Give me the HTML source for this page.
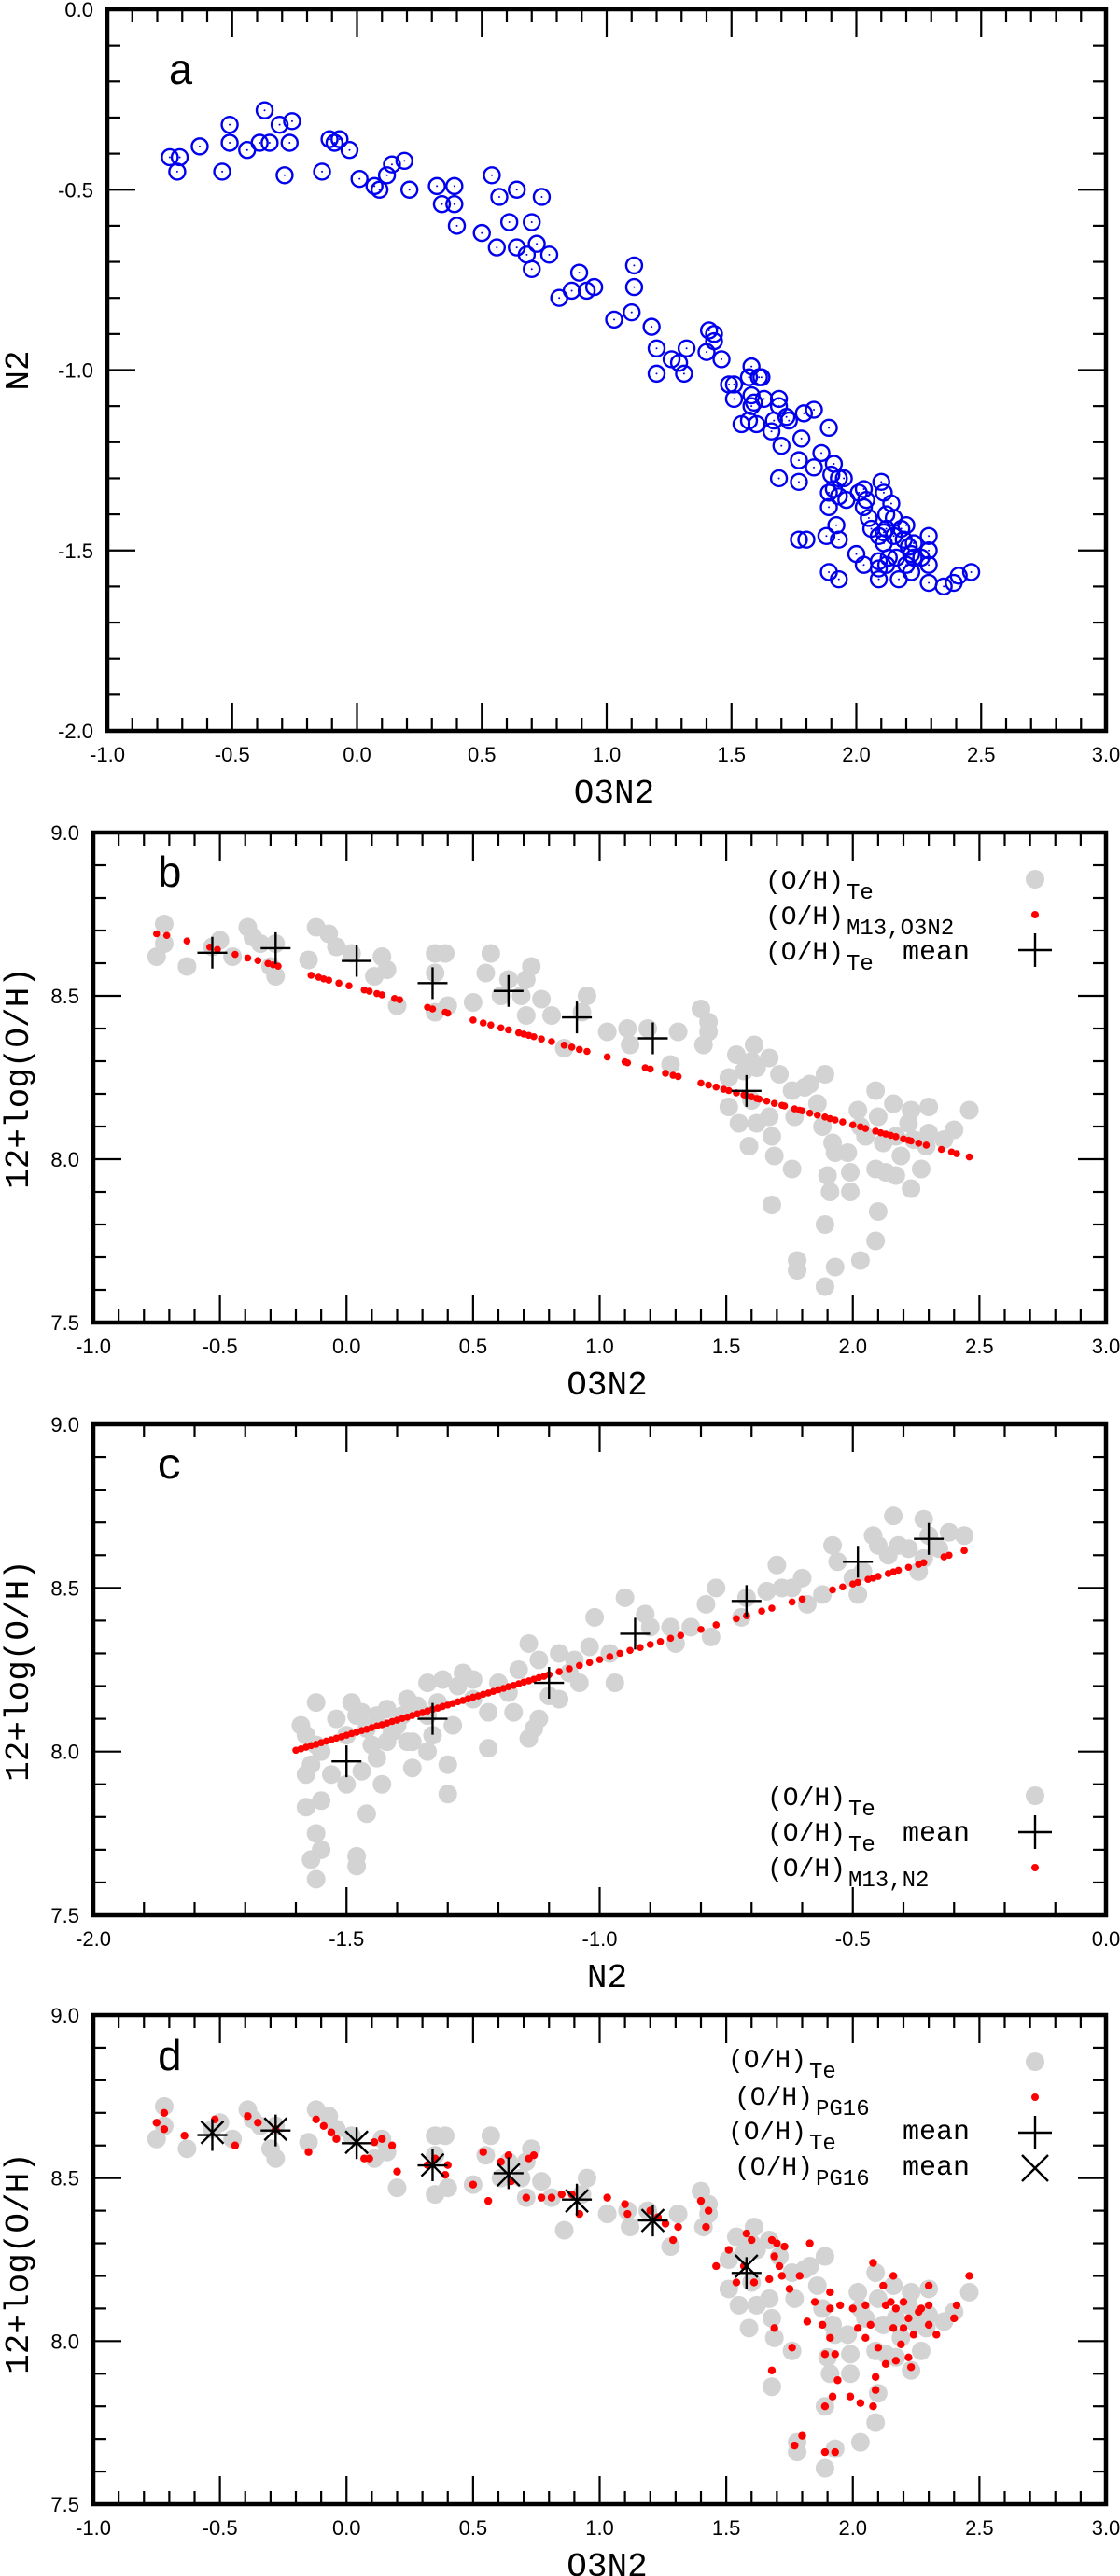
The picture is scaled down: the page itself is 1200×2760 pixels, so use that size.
<!DOCTYPE html>
<html><head><meta charset="utf-8"><style>
html,body{margin:0;padding:0;background:#fff;}
svg{display:block;}
.tl{font-family:"Liberation Sans",sans-serif;font-size:22px;fill:#000;}
.mono{font-family:"Liberation Mono",monospace;fill:#000;}
</style></head><body>
<svg id="fig" width="1200" height="2760" viewBox="0 0 1200 2760" xmlns="http://www.w3.org/2000/svg"></svg>
<script>
// ---------- Panel a data (O3N2 vs N2) ----------
const aO3N2 = [-0.75,-0.71,-0.72,-0.63,-0.54,-0.51,-0.51,-0.44,-0.39,-0.37,-0.35,-0.31,-0.29,-0.27,-0.26,-0.14,-0.11,-0.09,-0.07,-0.03,0.01,0.07,0.09,0.12,0.14,0.19,0.21,0.32,0.39,0.34,0.39,0.40,0.54,0.57,0.64,0.74,0.50,0.56,0.61,0.70,0.72,0.64,0.68,0.70,0.77,0.89,0.81,0.86,0.92,0.95,1.11,1.11,1.10,1.03,1.18,1.20,1.20,1.26,1.29,1.32,1.31,1.41,1.43,1.43,1.40,1.46,1.58,1.61,1.57,1.62,1.49,1.51,1.51,1.58,1.59,1.63,1.69,1.69,1.58,1.54,1.57,1.60,1.67,1.72,1.73,1.66,1.70,1.79,1.83,1.89,1.78,1.77,1.86,1.83,1.69,1.77,1.91,1.90,1.93,1.95,1.91,1.89,1.93,1.96,2.01,2.03,2.04,2.10,2.11,2.14,1.89,2.03,2.05,2.06,2.12,2.15,2.12,2.11,2.18,2.20,2.15,2.09,2.11,2.19,2.21,2.23,2.29,2.29,2.22,2.13,2.09,2.09,2.12,2.16,2.20,2.23,2.26,2.29,1.92,1.93,1.88,1.77,1.80,1.89,1.93,2.00,2.03,2.09,2.17,2.22,2.29,2.35,2.39,2.41,2.46];
const aN2 = [-0.41,-0.41,-0.45,-0.38,-0.45,-0.32,-0.37,-0.39,-0.37,-0.28,-0.37,-0.32,-0.46,-0.37,-0.31,-0.45,-0.36,-0.37,-0.36,-0.39,-0.47,-0.49,-0.50,-0.46,-0.43,-0.42,-0.50,-0.49,-0.49,-0.54,-0.54,-0.60,-0.46,-0.52,-0.50,-0.52,-0.62,-0.66,-0.59,-0.59,-0.65,-0.66,-0.68,-0.72,-0.68,-0.73,-0.80,-0.78,-0.78,-0.77,-0.71,-0.77,-0.84,-0.86,-0.88,-0.94,-1.01,-0.97,-0.98,-0.94,-1.01,-0.89,-0.90,-0.92,-0.95,-0.97,-0.99,-1.02,-1.02,-1.02,-1.04,-1.04,-1.08,-1.07,-1.09,-1.08,-1.08,-1.10,-1.10,-1.15,-1.14,-1.15,-1.14,-1.13,-1.14,-1.17,-1.21,-1.12,-1.11,-1.16,-1.19,-1.25,-1.23,-1.27,-1.30,-1.31,-1.26,-1.29,-1.30,-1.30,-1.33,-1.34,-1.35,-1.36,-1.34,-1.33,-1.36,-1.31,-1.34,-1.37,-1.38,-1.38,-1.41,-1.44,-1.40,-1.41,-1.44,-1.45,-1.44,-1.43,-1.46,-1.46,-1.48,-1.47,-1.49,-1.48,-1.46,-1.50,-1.51,-1.52,-1.53,-1.55,-1.54,-1.52,-1.54,-1.52,-1.52,-1.54,-1.43,-1.47,-1.46,-1.47,-1.47,-1.56,-1.58,-1.51,-1.54,-1.58,-1.58,-1.56,-1.59,-1.60,-1.59,-1.57,-1.56];

// ---------- Panel b / d gray (O3N2 vs Te) ----------
const teO3N2 = [-0.75,-0.72,-0.72,-0.63,-0.53,-0.50,-0.45,-0.39,-0.37,-0.34,-0.28,-0.28,-0.30,-0.15,-0.12,-0.07,-0.04,0.02,0.14,0.11,0.16,0.20,0.35,0.39,0.35,0.40,0.35,0.50,0.57,0.55,0.61,0.64,0.69,0.73,0.71,0.71,0.77,0.81,0.86,0.95,0.93,1.03,1.11,1.12,1.19,1.28,1.31,1.40,1.43,1.43,1.41,1.51,1.54,1.61,1.57,1.60,1.62,1.67,1.71,1.51,1.55,1.59,1.60,1.62,1.67,1.68,1.69,1.77,1.76,1.76,1.81,1.83,1.89,1.86,1.88,1.92,1.93,1.90,1.91,1.99,1.98,1.99,2.02,2.03,2.05,2.09,2.10,2.12,2.09,2.13,2.10,2.09,2.03,1.93,1.89,1.89,1.68,1.78,1.78,2.16,2.17,2.19,2.23,2.24,2.23,2.30,2.27,2.30,2.36,2.40,2.46,2.17,2.22,2.29];
const teOH = [8.62,8.72,8.66,8.59,8.65,8.67,8.62,8.71,8.68,8.66,8.66,8.56,8.59,8.61,8.71,8.69,8.65,8.63,8.62,8.56,8.58,8.47,8.63,8.63,8.57,8.47,8.45,8.48,8.63,8.57,8.50,8.55,8.50,8.59,8.55,8.44,8.49,8.44,8.34,8.50,8.45,8.39,8.40,8.35,8.40,8.29,8.39,8.46,8.42,8.39,8.35,8.25,8.32,8.35,8.27,8.30,8.28,8.31,8.26,8.16,8.11,8.04,8.18,8.11,8.13,8.07,8.01,8.13,7.97,8.21,8.22,8.23,8.26,8.17,8.10,8.05,8.02,7.95,7.90,7.90,8.02,7.96,8.15,8.10,8.07,8.21,8.13,8.05,7.97,7.96,7.84,7.75,7.69,7.67,7.80,7.61,7.86,7.69,7.66,8.17,8.07,8.01,8.15,8.06,7.91,8.16,7.97,8.08,8.06,8.09,8.15,7.95,8.11,8.04];

// ---------- Panel b red: M13 O3N2 calibration ----------
const m13O3N2x = [-0.75,-0.71,-0.63,-0.54,-0.51,-0.44,-0.39,-0.35,-0.31,-0.29,-0.27,-0.14,-0.11,-0.09,-0.07,-0.03,0.01,0.07,0.09,0.12,0.14,0.19,0.21,0.32,0.34,0.39,0.40,0.50,0.54,0.57,0.61,0.64,0.68,0.70,0.72,0.74,0.77,0.81,0.86,0.89,0.92,0.95,1.03,1.10,1.11,1.18,1.20,1.26,1.29,1.31,1.40,1.43,1.46,1.49,1.51,1.54,1.57,1.58,1.60,1.62,1.63,1.66,1.69,1.72,1.73,1.77,1.79,1.80,1.83,1.86,1.89,1.91,1.93,1.96,2.00,2.03,2.05,2.09,2.11,2.13,2.15,2.17,2.20,2.22,2.23,2.26,2.29,2.35,2.39,2.41,2.46];
const m13O3N2y = [8.690,8.685,8.668,8.649,8.642,8.627,8.616,8.608,8.599,8.595,8.591,8.563,8.557,8.552,8.548,8.539,8.531,8.518,8.514,8.507,8.503,8.492,8.488,8.465,8.460,8.450,8.447,8.426,8.417,8.411,8.402,8.396,8.387,8.383,8.379,8.375,8.368,8.360,8.349,8.343,8.336,8.330,8.313,8.298,8.295,8.280,8.276,8.263,8.257,8.253,8.233,8.227,8.221,8.214,8.210,8.203,8.197,8.195,8.191,8.186,8.184,8.178,8.171,8.165,8.163,8.154,8.150,8.148,8.141,8.135,8.129,8.124,8.120,8.114,8.105,8.099,8.094,8.086,8.081,8.077,8.073,8.069,8.062,8.058,8.056,8.049,8.043,8.030,8.022,8.017,8.007];

// ---------- means ----------
const meanO3N2 = [-0.53,-0.28,0.04,0.34,0.64,0.91,1.21,1.58];
const meanTeO3N2 = [8.632,8.646,8.607,8.539,8.515,8.434,8.370,8.209];
const meanPG16 = [8.64,8.65,8.61,8.54,8.51,8.43,8.37,8.23];

// ---------- Panel c ----------
const cN2 = [-1.59,-1.56,-1.56,-1.57,-1.58,-1.55,-1.58,-1.56,-1.55,-1.57,-1.56,-1.48,-1.48,-1.46,-1.49,-1.48,-1.46,-1.47,-1.43,-1.44,-1.42,-1.41,-1.39,-1.38,-1.37,-1.37,-1.34,-1.34,-1.31,-1.30,-1.30,-1.34,-1.27,-1.25,-1.22,-1.20,-1.17,-1.14,-1.14,-1.12,-1.10,-1.08,-1.08,-1.06,-1.04,-1.01,-0.97,-0.95,-0.91,-0.90,-0.86,-0.85,-0.78,-0.77,-0.79,-0.72,-0.71,-0.67,-0.65,-0.62,-0.60,-0.59,-0.54,-0.53,-0.49,-0.50,-0.48,-0.45,-0.42,-0.43,-0.41,-0.37,-0.36,-0.35,-0.31,-0.28,-0.36,-0.46,
  -1.58,-1.55,-1.52,-1.50,-1.47,-1.45,-1.42,-1.40,-1.38,-1.36,-1.33,-1.32,-1.29,-1.28,-1.25,-1.22,-1.18,-1.16,-1.12,-1.13,-1.05,-1.02,-0.98,-0.82,-0.64,-0.56,-0.39,-0.33,-1.53,-1.50,-1.44];
const cTe = [8.08,8.15,8.02,7.96,7.93,7.85,7.83,7.75,7.70,7.67,7.61,7.68,7.65,7.81,8.15,8.11,8.07,7.94,7.90,8.11,8.03,8.06,8.11,8.16,8.03,7.95,8.11,8.00,8.22,7.96,7.87,8.21,8.24,8.16,8.01,8.21,8.12,8.04,8.33,8.28,8.17,8.16,8.30,8.24,8.21,8.41,8.21,8.47,8.42,8.38,8.38,8.33,8.35,8.50,8.45,8.41,8.47,8.49,8.57,8.50,8.53,8.45,8.63,8.58,8.48,8.53,8.55,8.63,8.72,8.60,8.63,8.55,8.71,8.66,8.67,8.66,8.59,8.66,
  8.05,8.00,8.10,8.05,8.12,8.02,8.13,8.08,8.03,8.14,8.05,8.15,8.08,8.20,8.22,8.12,8.18,8.25,8.10,8.07,8.28,8.32,8.30,8.38,8.50,8.48,8.62,8.62,7.93,7.90,7.98];
const m13N2x = [-1.60,-1.58,-1.56,-1.54,-1.52,-1.50,-1.48,-1.46,-1.44,-1.42,-1.40,-1.38,-1.36,-1.34,-1.32,-1.30,-1.28,-1.26,-1.24,-1.22,-1.20,-1.18,-1.16,-1.14,-1.12,-1.10,-1.08,-1.06,-1.04,-1.02,-1.00,-0.98,-0.96,-0.94,-0.92,-0.90,-0.88,-0.86,-0.84,-0.80,-0.77,-0.73,-0.71,-0.68,-0.66,-0.62,-0.60,-0.54,-0.52,-0.50,-0.49,-0.47,-0.46,-0.45,-0.43,-0.42,-0.41,-0.39,-0.37,-0.36,-0.32,-0.31,-0.28,
  -1.59,-1.57,-1.55,-1.53,-1.51,-1.49,-1.47,-1.45,-1.43,-1.41,-1.39,-1.37,-1.35,-1.33,-1.31,-1.29,-1.27,-1.25,-1.23,-1.21,-1.19,-1.17,-1.15,-1.13,-1.11];
const m13N2y = [8.004,8.013,8.022,8.032,8.041,8.050,8.059,8.068,8.078,8.087,8.096,8.105,8.115,8.124,8.133,8.142,8.152,8.161,8.170,8.179,8.189,8.198,8.207,8.216,8.226,8.235,8.244,8.253,8.263,8.272,8.281,8.290,8.300,8.309,8.318,8.327,8.336,8.346,8.355,8.373,8.387,8.406,8.415,8.429,8.438,8.457,8.466,8.494,8.503,8.512,8.517,8.526,8.530,8.535,8.544,8.549,8.554,8.563,8.572,8.577,8.595,8.600,8.614,
  8.008,8.018,8.027,8.036,8.045,8.055,8.064,8.073,8.082,8.092,8.101,8.110,8.119,8.129,8.138,8.147,8.156,8.166,8.175,8.184,8.193,8.202,8.212,8.221,8.230];
const meanN2 = [-1.50,-1.33,-1.10,-0.93,-0.71,-0.49,-0.35];
const meanTeN2 = [7.97,8.10,8.21,8.36,8.46,8.58,8.65];

// ---------- Panel d red PG16 ----------
const pgO3N2 = [-0.75,-0.72,-0.72,-0.64,-0.52,-0.44,-0.39,-0.35,-0.28,-0.15,-0.12,-0.09,-0.06,-0.04,0.07,0.09,0.11,0.14,0.18,0.20,0.32,0.35,0.40,0.39,0.50,0.54,0.56,0.61,0.64,0.65,0.71,0.72,0.74,0.77,0.81,0.85,0.89,0.92,1.03,1.10,1.11,1.20,1.23,1.26,1.29,1.31,1.40,1.43,1.42,1.46,1.51,1.58,1.60,1.57,1.54,1.61,1.67,1.68,1.70,1.69,1.71,1.72,1.73,1.75,1.79,1.83,1.85,1.91,1.91,1.88,1.91,1.93,1.94,1.92,1.89,1.89,1.95,2.00,2.02,2.05,2.05,2.07,2.12,2.15,2.16,2.08,2.10,2.13,2.16,2.17,2.19,2.20,2.22,2.24,2.27,2.30,2.30,2.30,2.33,2.40,2.41,2.46,2.13,2.09,2.09,2.08,2.03,1.99,1.93,1.89,1.77,1.80,1.68,1.69,1.76,1.82,2.22,2.23,2.26,2.17,2.20];
const pgOH = [8.67,8.70,8.65,8.63,8.68,8.60,8.69,8.67,8.65,8.58,8.68,8.66,8.64,8.62,8.56,8.56,8.61,8.62,8.60,8.52,8.54,8.56,8.54,8.51,8.48,8.58,8.43,8.55,8.57,8.49,8.44,8.56,8.57,8.44,8.44,8.45,8.45,8.39,8.44,8.42,8.39,8.40,8.38,8.36,8.31,8.35,8.43,8.40,8.35,8.23,8.28,8.33,8.31,8.23,8.18,8.18,8.19,8.31,8.30,8.26,8.23,8.20,8.29,8.16,8.20,8.30,8.12,8.15,8.10,8.05,8.01,7.96,7.88,7.83,7.96,7.80,8.11,8.10,8.04,8.01,8.11,8.05,8.17,8.12,8.20,8.24,7.98,7.93,8.04,8.10,7.99,8.12,8.07,8.02,8.10,8.11,8.05,8.17,8.02,8.07,8.11,8.20,8.11,7.89,7.85,7.80,7.81,7.83,7.66,7.66,7.68,7.71,7.91,8.04,7.98,8.06,7.95,7.92,8.09,7.94,8.04];

// ---------- tick label arrays ----------
const xTicksO3N2 = ["-1.0","-0.5","0.0","0.5","1.0","1.5","2.0","2.5","3.0"];
const yTicksN2 = ["0.0","-0.5","-1.0","-1.5","-2.0"];
const yTicksOH = ["9.0","8.5","8.0","7.5"];
const xTicksN2 = ["-2.0","-1.5","-1.0","-0.5","0.0"];

const NS = "http://www.w3.org/2000/svg";
const svg = document.getElementById('fig');
function mk(tag, attrs, parent){
  const e = document.createElementNS(NS, tag);
  for (const k in attrs) e.setAttribute(k, attrs[k]);
  (parent||svg).appendChild(e);
  return e;
}
function txt(parent, x, y, s, cls, anchor, size){
  const t = mk('text', {x:x, y:y, class:cls, 'text-anchor':anchor||'start'}, parent);
  if (size) t.setAttribute('font-size', size);
  t.textContent = s;
  return t;
}

function makePanel(name, L, R, T, B, xmin, xmax, ymin, ymax, xLabels, yLabels, xTitle, yTitle, yTitleY, letter, letterX, letterY){
  const g = mk('g', {});
  
  
  const sx = v => L + (v - xmin) / (xmax - xmin) * (R - L);
  const sy = v => B - (v - ymin) / (ymax - ymin) * (B - T);
  const tg = mk('g', {stroke:'#000', 'stroke-width':2.2}, g);
  
  
  const nx = Math.round((xmax - xmin) / 0.1);
  for (let i = 1; i < nx; i++){
    const x = L + i * (R - L) / nx;
    const len = (i % 5 === 0) ? 30 : 14;
    mk('line', {x1:x, y1:B, x2:x, y2:B - len}, tg);
    mk('line', {x1:x, y1:T, x2:x, y2:T + len}, tg);
  }
  const ny = Math.round((ymax - ymin) / 0.1);
  for (let i = 1; i < ny; i++){
    const y = T + i * (B - T) / ny;
    const len = (i % 5 === 0) ? 30 : 14;
    mk('line', {x1:L, y1:y, x2:L + len, y2:y}, tg);
    mk('line', {x1:R, y1:y, x2:R - len, y2:y}, tg);
  }
  const fr = mk('rect', {x:L, y:T, width:R - L, height:B - T, fill:'none', stroke:'#000', 'stroke-width':4.5}, g);
  
  
  xLabels.forEach((s, i) => {
    const t = txt(g, L + i * (R - L) / (xLabels.length - 1), B + 33, s, 'tl', 'middle');
    
    
  });
  yLabels.forEach((s, i) => {
    const t = txt(g, L - 15, T + i * (B - T) / (yLabels.length - 1) + 8, s, 'tl', 'end');
    
    
  });
  const xt = txt(g, (L + R) / 2 + 8, B + 77, xTitle, 'mono', 'middle', 36);
  
  
  const yt = mk('text', {x:0, y:0, class:'mono', 'text-anchor':'middle', 'font-size':36, transform:'translate(30,' + yTitleY + ') rotate(-90)'}, g);
  yt.textContent = yTitle;
  
  
  const lt = txt(g, letterX, letterY, letter, 'mono', 'start', 46);
  
  
  return {g, sx, sy};
}

function grayDots(p, xs, ys){
  const g = mk('g', {fill:'#d3d3d3'}, p.g);
  
  
  xs.forEach((v, i) => {
    const c = mk('circle', {cx:p.sx(v), cy:p.sy(ys[i]), r:10}, g);
    
    
  });
}
function redDots(p, xs, ys, r, nm){
  const g = mk('g', {fill:'#ff0000'}, p.g);
  
  
  xs.forEach((v, i) => {
    const c = mk('circle', {cx:p.sx(v), cy:p.sy(ys[i]), r:r}, g);
    
    
  });
}
function plusMarks(p, xs, ys, nm){
  const g = mk('g', {stroke:'#000', 'stroke-width':2.4}, p.g);
  
  
  xs.forEach((v, i) => {
    const x = p.sx(v), y = p.sy(ys[i]);
    const m = mk('path', {d:`M${x-16},${y}H${x+16}M${x},${y-17}V${y+17}`}, g);
    
    
  });
}
function crossMarks(p, xs, ys, nm){
  const g = mk('g', {stroke:'#000', 'stroke-width':2.4}, p.g);
  
  
  xs.forEach((v, i) => {
    const x = p.sx(v), y = p.sy(ys[i]), d = 12;
    const m = mk('path', {d:`M${x-d},${y-d}L${x+d},${y+d}M${x-d},${y+d}L${x+d},${y-d}`}, g);
    
    
  });
}
function legendRow(p, x, y, sub, extra, marker, my){
  const g = mk('g', {}, p.g);
  
  
  txt(g, x, y, '(O/H)', 'mono', 'start', 28);
  txt(g, x + 87, y + 11, sub, 'mono', 'start', 24);
  if (extra) txt(g, 967, y, extra, 'mono', 'start', 30);
  const mx = 1109;
  if (marker === 'gray') mk('circle', {cx:mx, cy:my, r:10, fill:'#d3d3d3'}, g);
  if (marker === 'red') mk('circle', {cx:mx, cy:my, r:4, fill:'#ff0000'}, g);
  if (marker === 'plus') mk('path', {d:`M${mx-18},${my}H${mx+18}M${mx},${my-18}V${my+18}`, stroke:'#000', 'stroke-width':2.4}, g);
  if (marker === 'cross') mk('path', {d:`M${mx-14},${my-14}L${mx+14},${my+14}M${mx-14},${my+14}L${mx+14},${my-14}`, stroke:'#000', 'stroke-width':2.4}, g);
}

// Panel a
const pa = makePanel('panel-a', 115, 1185, 10, 783, -1, 3, -2, 0, xTicksO3N2, yTicksN2, 'O3N2', 'N2', 397, 'a', 180, 90);
{
  const g = mk('g', {}, pa.g);
  
  
  aO3N2.forEach((v, i) => {
    const x = pa.sx(v), y = pa.sy(aN2[i]);
    const c = mk('circle', {cx:x, cy:y, r:8.5, fill:'none', stroke:'#0000ee', 'stroke-width':2.4}, g);
    
    
    mk('circle', {cx:x, cy:y, r:1, fill:'#0000ee'}, g);
  });
}

// Panel b
const pb = makePanel('panel-b', 100, 1185, 892, 1417, -1, 3, 7.5, 9, xTicksO3N2, yTicksOH, 'O3N2', '12+log(O/H)', 1155, 'b', 168, 950);
grayDots(pb, teO3N2, teOH);
redDots(pb, m13O3N2x, m13O3N2y, 3.8, 'm13-o3n2');
plusMarks(pb, meanO3N2, meanTeO3N2, 'te-means');
legendRow(pb, 820, 952, 'Te', '', 'gray', 942);
legendRow(pb, 820, 990, 'M13,O3N2', '', 'red', 980);
legendRow(pb, 820, 1028, 'Te', 'mean', 'plus', 1018);

// Panel c
const pc = makePanel('panel-c', 100, 1185, 1526, 2052, -2, 0, 7.5, 9, xTicksN2, yTicksOH, 'N2', '12+log(O/H)', 1790, 'c', 168, 1584);
grayDots(pc, cN2, cTe);
redDots(pc, m13N2x, m13N2y, 3.8, 'm13-n2');
plusMarks(pc, meanN2, meanTeN2, 'te-means');
legendRow(pc, 822, 1934, 'Te', '', 'gray', 1924);
legendRow(pc, 822, 1972, 'Te', 'mean', 'plus', 1963);
legendRow(pc, 822, 2010, 'M13,N2', '', 'red', 2001);

// Panel d
const pd = makePanel('panel-d', 100, 1185, 2159, 2683, -1, 3, 7.5, 9, xTicksO3N2, yTicksOH, 'O3N2', '12+log(O/H)', 2425, 'd', 168, 2218);
grayDots(pd, teO3N2, teOH);
redDots(pd, pgO3N2, pgOH, 4.2, 'pg16');
plusMarks(pd, meanO3N2, meanTeO3N2, 'te-means');
crossMarks(pd, meanO3N2, meanPG16, 'pg16-means');
legendRow(pd, 780, 2215, 'Te', '', 'gray', 2209);
legendRow(pd, 787, 2255, 'PG16', '', 'red', 2247);
legendRow(pd, 780, 2292, 'Te', 'mean', 'plus', 2285);
legendRow(pd, 787, 2330, 'PG16', 'mean', 'cross', 2323);
</script>
</body></html>
